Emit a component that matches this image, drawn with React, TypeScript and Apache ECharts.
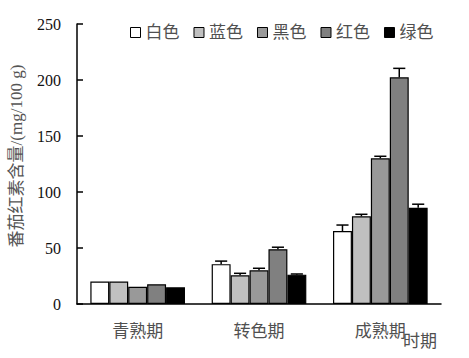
import React, { useEffect, useRef } from "react";
import * as echarts from "echarts";

const categories = ["青熟期", "转色期", "成熟期"];
const seriesNames = ["白色", "蓝色", "黑色", "红色", "绿色"];
const seriesColors = ["#ffffff", "#c0c0c0", "#999999", "#808080", "#000000"];
const whiteValues = [20, 35.6, 65.2];
const blueValues = [20, 25.6, 78.3];
const blackValues = [15.4, 30.1, 130.1];
const redValues = [17.6, 48.9, 202.4];
const greenValues = [14.9, 26.2, 85.9];
const whiteErr = [0, 2.7, 5.3];
const blueErr = [0, 1.8, 1.8];
const blackErr = [0, 1.8, 1.8];
const redErr = [0, 1.8, 8];
const greenErr = [0, 0.6, 3.2];
const yTicks = { min: 0, max: 250, interval: 50 };

const allValues = [whiteValues, blueValues, blackValues, redValues, greenValues];
const allErr = [whiteErr, blueErr, blackErr, redErr, greenErr];

const serifFont = "'Liberation Serif', 'Times New Roman', 'Noto Sans CJK SC', serif";
const GAP = 0.22;
const N = 5;

export default function App() {
  const ref = useRef<HTMLDivElement>(null);
  useEffect(() => {
    if (!ref.current) return;
    const chart = echarts.init(ref.current, undefined, { renderer: "svg" });
    const barSeries = seriesNames.map((name, i) => ({
      name,
      type: "bar",
      data: allValues[i],
      barGap: "0%",
      barCategoryGap: `${GAP * 100}%`,
      itemStyle: { color: seriesColors[i], borderColor: "#000", borderWidth: 1.2 },
      z: 2,
    }));
    const errSeries = seriesNames.map((name, i) => ({
      name: name + "误差",
      type: "custom",
      coordinateSystem: "cartesian2d",
      data: allValues[i].map((v, k) => [k, v, allErr[i][k]]),
      encode: { x: 0, y: 1 },
      z: 3,
      renderItem: (params: any, api: any) => {
        const idx = api.value(0);
        const val = api.value(1);
        const err = api.value(2);
        if (!err || err <= 0) return null;
        const base = api.coord([idx, val]);
        const top = api.coord([idx, val + err]);
        const band = api.size([1, 0])[0];
        const barW = (band * (1 - GAP)) / N;
        const x = base[0] + (i - (N - 1) / 2) * barW;
        const capHalf = barW * 0.32;
        const style = { stroke: "#000", lineWidth: 1.5 };
        return {
          type: "group",
          children: [
            { type: "line", shape: { x1: x, y1: base[1], x2: x, y2: top[1] }, style },
            { type: "line", shape: { x1: x - capHalf, y1: top[1], x2: x + capHalf, y2: top[1] }, style },
          ],
        };
      },
    }));
    chart.setOption({
      animation: false,
      backgroundColor: "#ffffff",
      grid: { left: 73, right: 28, top: 24, bottom: 54 },
      legend: {
        data: seriesNames,
        left: 125,
        top: 19,
        itemWidth: 10,
        itemHeight: 10,
        itemGap: 14,
        icon: "rect",
        itemStyle: { borderColor: "#000", borderWidth: 1 },
        textStyle: { fontFamily: serifFont, fontSize: 17, color: "#505050" },
      },
      xAxis: {
        type: "category",
        data: categories,
        axisLine: { lineStyle: { color: "#000", width: 1.5 } },
        axisTick: { inside: true, length: 6, lineStyle: { color: "#000", width: 1.5 } },
        axisLabel: { fontFamily: serifFont, fontSize: 17, color: "#505050", margin: 19 },
      },
      yAxis: {
        type: "value",
        min: yTicks.min,
        max: yTicks.max,
        interval: yTicks.interval,
        name: "番茄红素含量/(mg/100 g)",
        nameLocation: "middle",
        nameGap: 52,
        nameRotate: 90,
        nameTextStyle: { fontFamily: serifFont, fontSize: 17, color: "#555", padding: [0, 0, 0, 16] },
        axisLine: { show: true, lineStyle: { color: "#000", width: 1.5 } },
        axisTick: { show: true, inside: true, length: 6, lineStyle: { color: "#000", width: 1.5 } },
        axisLabel: { fontFamily: serifFont, fontSize: 16, color: "#111", margin: 16 },
        splitLine: { show: false },
      },
      graphic: [
        {
          type: "text",
          left: 403,
          top: 333,
          style: { text: "时期", fontFamily: serifFont, fontSize: 17, fill: "#505050" },
        },
      ],
      series: [...barSeries, ...errSeries],
    });
    return () => chart.dispose();
  }, []);
  return (
    <div
      ref={ref}
      style={{ position: "fixed", left: 0, top: 0, width: 469, height: 358, background: "#fff" }}
    />
  );
}
